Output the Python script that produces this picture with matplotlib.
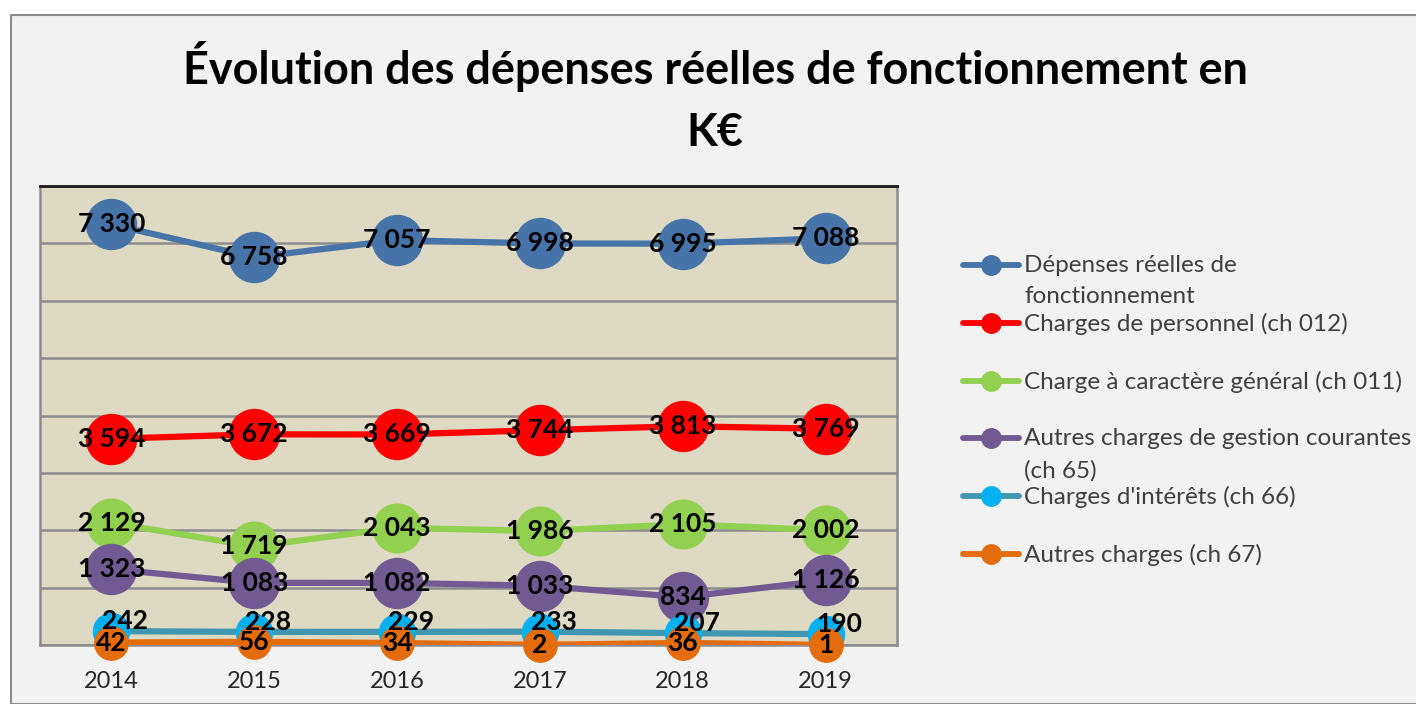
import matplotlib
matplotlib.use("Agg")
import matplotlib.pyplot as plt
from matplotlib.lines import Line2D
from matplotlib.patches import Rectangle

plt.rcParams['font.family'] = ['Lato', 'DejaVu Sans']

years = ['2014', '2015', '2016', '2017', '2018', '2019']
depenses_reelles = [7330, 6758, 7057, 6998, 6995, 7088]
charges_personnel = [3594, 3672, 3669, 3744, 3813, 3769]
charges_generales = [2129, 1719, 2043, 1986, 2105, 2002]
autres_gestion = [1323, 1083, 1082, 1033, 834, 1126]
charges_interets = [242, 228, 229, 233, 207, 190]
autres_charges = [42, 56, 34, 2, 36, 1]

series_names = ['Dépenses réelles de\nfonctionnement',
                'Charges de personnel (ch 012)',
                'Charge à caractère général (ch 011)',
                'Autres charges de gestion courantes\n(ch 65)',
                "Charges d'intérêts (ch 66)",
                'Autres charges (ch 67)']
series_values = [depenses_reelles, charges_personnel, charges_generales,
                 autres_gestion, charges_interets, autres_charges]
line_colors = ['#4673a8', '#ff0000', '#92d050', '#715a92', '#3f98b0', '#e46c0a']
marker_colors = ['#4673a8', '#ff0000', '#92d050', '#715a92', '#00b0f0', '#e46c0a']
marker_sizes = [36, 36, 35, 36, 26, 24]

W, H = 1416, 704
fig = plt.figure(figsize=(W / 100, H / 100), dpi=100)
fig.patch.set_facecolor('white')

# chart area frame
fig.patches.append(Rectangle((11 / W, 0), 1.2, 1 - 15 / H, transform=fig.transFigure,
                             facecolor='#f2f2f2', edgecolor='#8c8c8c', linewidth=1.5,
                             zorder=-5))

ax = fig.add_axes([40 / W, 1 - 645 / H, 857 / W, 459 / H])
ax.set_facecolor('#ddd9c3')
x = list(range(len(years)))

for i, (vals, lc, mc, ms) in enumerate(zip(series_values, line_colors, marker_colors, marker_sizes)):
    ax.plot(x, vals, color=lc, linewidth=4.5, zorder=3 + i, solid_capstyle='round')
    ax.plot(x, vals, linestyle='none', marker='o', markersize=ms,
            markerfacecolor=mc, markeredgecolor=mc, zorder=3 + i, clip_on=False)

for i, vals in enumerate(series_values):
    for xi, v in zip(x, vals):
        lab = f"{v:,}".replace(',', ' ')
        off = (10, 7) if i == 4 else (0, 0)
        ax.annotate(lab, (xi, v), xytext=off, textcoords='offset points',
                    ha='center', va='center', fontsize=19, fontweight='bold',
                    color='black', zorder=20, annotation_clip=False)

ax.set_xlim(-0.5, len(years) - 0.5)
ax.set_ylim(0, 8000)
ax.set_yticks(range(0, 8001, 1000))
ax.set_yticklabels([])
ax.set_xticks(x)
ax.set_xticklabels(years, fontsize=17, color='#262626')
ax.tick_params(axis='both', length=0)
ax.tick_params(axis='x', pad=19)
ax.grid(axis='y', color='#8c8c8c', linewidth=1.8, zorder=1)
ax.set_axisbelow(True)
for s in ['left', 'right', 'bottom']:
    ax.spines[s].set_color('#8c8c8c')
    ax.spines[s].set_linewidth(1.8)
ax.spines['top'].set_color('#1a1a1a')
ax.spines['top'].set_linewidth(2)

fig.text(0.505, 1 - 97.5 / H, 'Évolution des dépenses réelles de fonctionnement en\nK€',
         ha='center', va='center', multialignment='center', fontsize=32.4,
         fontweight='bold', color='black', linespacing=1.58)

# legend
for i, (name, lc, mc) in enumerate(zip(series_names, line_colors, marker_colors)):
    yc = 1 - (265 + 57.8 * i) / H
    fig.add_artist(Line2D([963 / W, 1019 / W], [yc, yc], color=lc, linewidth=4.2,
                          solid_capstyle='round', transform=fig.transFigure))
    fig.add_artist(Line2D([991 / W], [yc], marker='o', markersize=14, color=mc,
                          transform=fig.transFigure))
    fig.text(1024 / W, yc + 10 / H, name, ha='left', va='top', fontsize=17.5,
             color='#404040', linespacing=1.6)

fig.savefig('out.png', dpi=100, facecolor=fig.get_facecolor())
